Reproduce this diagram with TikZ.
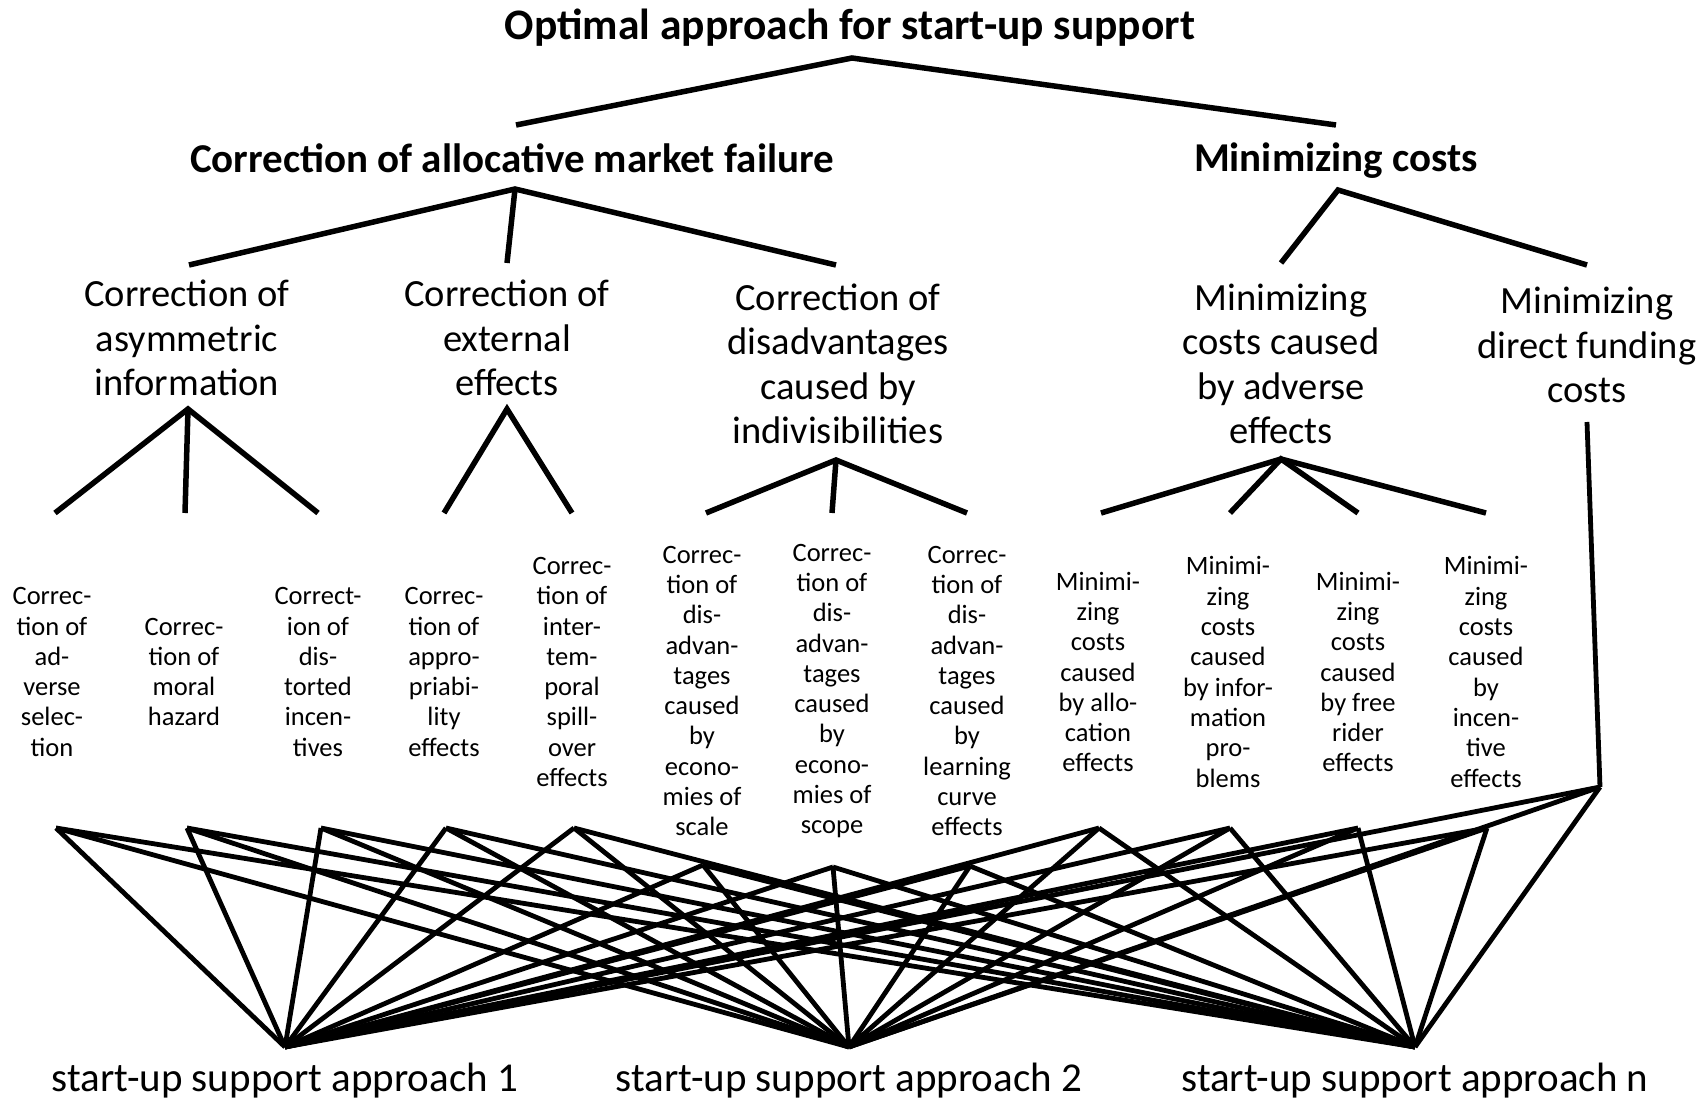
\documentclass[tikz,border=0pt]{standalone}
\usepackage{fontspec}
\setmainfont{Carlito}
\usepackage{tikz}
\usetikzlibrary{positioning,calc}

\tikzset{
    treeline/.style={line width=5.5pt},
    linkline/.style={line width=4.8pt},
    headtext/.style={font=\fontsize{43.5}{52}\selectfont\bfseries},
    goaltext/.style={font=\fontsize{41}{49}\selectfont\bfseries},
    subtext/.style={align=center, font=\fontsize{38.5}{44.5}\selectfont},
    leaftext/.style={align=center, font=\fontsize{26.5}{30.3}\selectfont},
    apptext/.style={font=\fontsize{41}{49}\selectfont}
}

\begin{document}
\begin{tikzpicture}[x=1pt, y=-1pt]
    \useasboundingbox (0,0) rectangle (1706,1100);

    % Goal and the two objectives
    \node[headtext] (optimal) at (850,28) {Optimal approach for start-up support};
    \node[goaltext] (alloc) at (512,158) {Correction of allocative market failure};
    \node[goaltext] (costs) at (1336,161) {Minimizing costs};

    % Second level
    \node[subtext] (asym) at (187,338) {Correction of\\asymmetric\\information};
    \node[subtext] (ext) at (507,338) {Correction of\\external\\effects};
    \node[subtext] (indiv) at (838,364) {Correction of\\disadvantages\\caused by\\indivisibilities};
    \node[subtext] (adverse) at (1281,364) {Minimizing\\costs caused\\by adverse\\effects};
    \node[subtext] (direct) at (1587,345) {Minimizing\\direct funding\\costs};

    % Leaves
    \node[leaftext] (l1) at (52,672) {Correc-\\tion of\\ad-\\verse\\selec-\\tion};
    \node[leaftext] (l2) at (184,672) {Correc-\\tion of\\moral\\hazard};
    \node[leaftext] (l3) at (318,672) {Correct-\\ion of\\dis-\\torted\\incen-\\tives};
    \node[leaftext] (l4) at (444,672) {Correc-\\tion of\\appro-\\priabi-\\lity\\effects};
    \node[leaftext] (l5) at (572,672) {Correc-\\tion of\\inter-\\tem-\\poral\\spill-\\over\\effects};
    \node[leaftext] (l6) at (702,691) {Correc-\\tion of\\dis-\\advan-\\tages\\caused\\by\\econo-\\mies of\\scale};
    \node[leaftext] (l7) at (832,691) {Correc-\\tion of\\dis-\\advan-\\tages\\caused\\by\\econo-\\mies of\\scope};
    \node[leaftext] (l8) at (967,691) {Correc-\\tion of\\dis-\\advan-\\tages\\caused\\by\\learning\\curve\\effects};
    \node[leaftext] (l9) at (1098,672) {Minimi-\\zing\\costs\\caused\\by allo-\\cation\\effects};
    \node[leaftext] (l10) at (1228,672) {Minimi-\\zing\\costs\\caused\\by infor-\\mation\\pro-\\blems};
    \node[leaftext] (l11) at (1358,672) {Minimi-\\zing\\costs\\caused\\by free\\rider\\effects};
    \node[leaftext] (l12) at (1486,672) {Minimi-\\zing\\costs\\caused\\by\\incen-\\tive\\effects};

    % Approaches
    \node[apptext] (app1) at (285,1081) {start-up support approach 1};
    \node[apptext] (app2) at (849,1081) {start-up support approach 2};
    \node[apptext] (app3) at (1415,1081) {start-up support approach n};

    % Junction points
    \coordinate (optimal-b) at (852,58);
    \coordinate (alloc-t) at (516,125);
    \coordinate (costs-t) at (1336,125);
    \coordinate (alloc-b) at (515,189);
    \coordinate (costs-b) at (1338,190);
    \coordinate (asym-t) at (189,265);
    \coordinate (ext-t) at (507,263);
    \coordinate (indiv-t) at (836,265);
    \coordinate (adverse-t) at (1281,263);
    \coordinate (direct-t) at (1587,265);
    \coordinate (asym-b) at (188,409);
    \coordinate (ext-b) at (507,409);
    \coordinate (indiv-b) at (836,460);
    \coordinate (adverse-b) at (1281,459);
    \coordinate (direct-b) at (1587,422);
    \foreach \n/\x in {1/55,2/185,3/318,4/444,5/572,6/706,7/832,8/967,9/1101,10/1230,11/1358,12/1486}
        \coordinate (t\n) at (\x,513);

    % Link points above the approaches
    \coordinate (p1) at (56,828);
    \coordinate (p2) at (187,828);
    \coordinate (p3) at (321,828);
    \coordinate (p4) at (446,828);
    \coordinate (p5) at (574,828);
    \coordinate (p6) at (703,865);
    \coordinate (p7) at (833,867);
    \coordinate (p8) at (970,866);
    \coordinate (p9) at (1099,828);
    \coordinate (p10) at (1230,828);
    \coordinate (p11) at (1358,828);
    \coordinate (p12) at (1487,828);
    \coordinate (p13) at (1600,787);
    \coordinate (a1) at (285,1047);
    \coordinate (a2) at (849,1047);
    \coordinate (a3) at (1415,1047);

    % Tree
    \draw[treeline] (alloc-t) -- (optimal-b) -- (costs-t);
    \draw[treeline] (asym-t) -- (alloc-b) -- (indiv-t);
    \draw[treeline] (alloc-b) -- (ext-t);
    \draw[treeline] (adverse-t) -- (costs-b) -- (direct-t);
    \draw[treeline] (t1) -- (asym-b) -- (t3);
    \draw[treeline] (asym-b) -- (t2);
    \draw[treeline] (t4) -- (ext-b) -- (t5);
    \draw[treeline] (t6) -- (indiv-b) -- (t8);
    \draw[treeline] (indiv-b) -- (t7);
    \draw[treeline] (t9) -- (adverse-b) -- (t12);
    \draw[treeline] (t10) -- (adverse-b) -- (t11);
    \draw[linkline] (direct-b) -- (p13);

    % Every criterion to every approach
    \foreach \i in {1,...,13} {
        \foreach \j in {1,2,3} {
            \draw[linkline] (p\i) -- (a\j);
        }
    }
\end{tikzpicture}
\end{document}
